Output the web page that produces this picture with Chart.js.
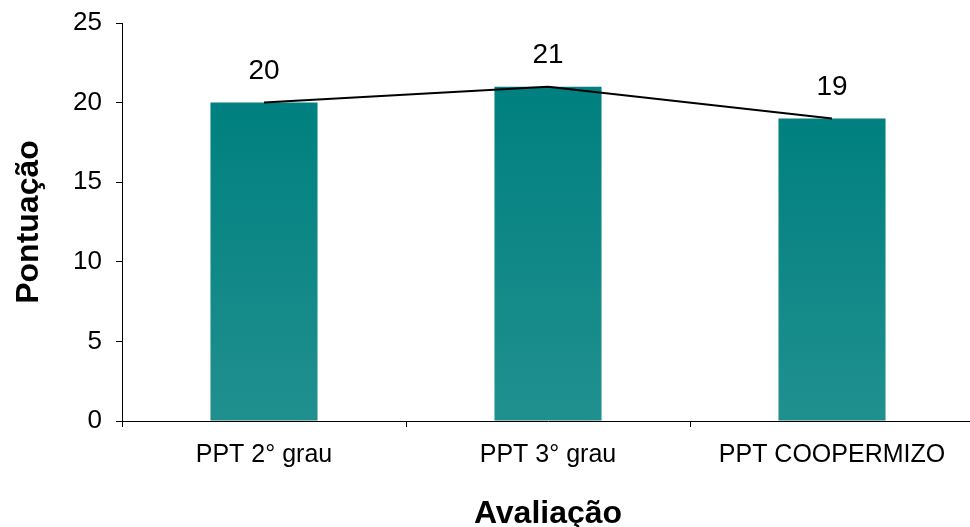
<!DOCTYPE html>
<html>
<head>
<meta charset="utf-8">
<script src="https://cdn.jsdelivr.net/npm/chart.js@4"></script>
<style>
  html, body { margin: 0; padding: 0; background: #fff; overflow: hidden; }
  #wrap { position: relative; width: 980px; height: 527px; }
</style>
</head>
<body>
<div id="wrap"><canvas id="c" width="980" height="527"></canvas></div>
<script>
const categories = ["PPT 2° grau", "PPT 3° grau", "PPT COOPERMIZO"];
const scores = [20, 21, 19];
const lineValues = [20, 21, 19];
const yTicks = [0, 5, 10, 15, 20, 25];

const FONT = "'Liberation Sans', Arial, sans-serif";

function barGradient(ctx) {
  const chart = ctx.chart;
  const area = chart.chartArea;
  if (!area || ctx.type !== 'data') return '#008080';
  const y = chart.scales.y;
  const top = y.getPixelForValue(ctx.parsed.y);
  const bottom = y.getPixelForValue(0);
  const g = chart.ctx.createLinearGradient(0, top, 0, bottom);
  g.addColorStop(0, '#008080');
  g.addColorStop(1, '#20908f');
  return g;
}

const valueLabels = {
  id: 'valueLabels',
  afterDatasetsDraw(chart) {
    const meta = chart.getDatasetMeta(0);
    const ctx = chart.ctx;
    ctx.save();
    ctx.font = "28px " + FONT;
    ctx.fillStyle = '#000';
    ctx.textAlign = 'center';
    ctx.textBaseline = 'middle';
    meta.data.forEach((bar, i) => {
      ctx.fillText(String(scores[i]), bar.x, bar.y - 31);
    });
    ctx.restore();
  }
};

new Chart(document.getElementById('c'), {
  data: {
    labels: categories,
    datasets: [
      {
        type: 'bar',
        data: scores,
        backgroundColor: barGradient,
        borderWidth: 0,
        categoryPercentage: 1,
        barPercentage: 0.377,
        order: 2
      },
      {
        type: 'line',
        data: lineValues,
        borderColor: '#000',
        borderWidth: 2,
        pointRadius: 0,
        tension: 0,
        fill: false,
        order: 1
      }
    ]
  },
  options: {
    responsive: false,
    animation: false,
    devicePixelRatio: 1,
    layout: { padding: { top: 23, right: 6, left: 10, bottom: 0 } },
    plugins: {
      legend: { display: false },
      tooltip: { enabled: false }
    },
    scales: {
      x: {
        offset: true,
        afterFit(scale) { scale.height = 106; scale.paddingLeft = 0; scale.paddingRight = 0; },
        grid: { display: true, drawOnChartArea: false, drawTicks: true, tickLength: 6, color: '#000', offset: true },
        border: { display: true, color: '#000', width: 1 },
        ticks: { color: '#000', font: { family: FONT, size: 25 }, padding: 13, maxRotation: 0, autoSkip: false },
        title: { display: true, text: 'Avaliação', color: '#000', font: { family: FONT, size: 32, weight: 'bold', lineHeight: 0.8 }, padding: { top: 0, bottom: 0 } }
      },
      y: {
        min: 0,
        max: 25,
        afterBuildTicks(scale) { scale.ticks = yTicks.map(v => ({ value: v })); },
        afterFit(scale) { scale.width = 112; scale.paddingTop = 0; scale.paddingBottom = 0; },
        grid: { display: true, drawOnChartArea: false, drawTicks: true, tickLength: 6, color: '#000' },
        border: { display: true, color: '#000', width: 1 },
        ticks: { color: '#000', font: { family: FONT, size: 26 }, padding: 14 },
        title: { display: true, text: 'Pontuação', color: '#000', font: { family: FONT, size: 32, weight: 'bold' }, padding: { top: 0, bottom: 0 } }
      }
    }
  },
  plugins: [valueLabels]
});
</script>
</body>
</html>
